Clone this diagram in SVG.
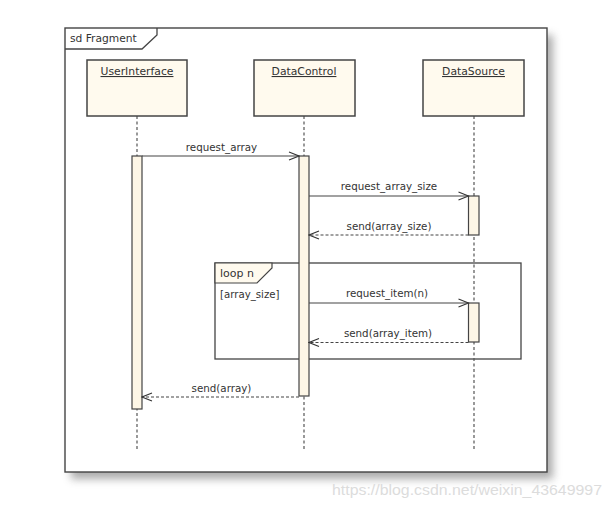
<svg xmlns="http://www.w3.org/2000/svg" width="612" height="509" viewBox="0 0 612 509">
<defs>
<filter id="sh" x="-10%" y="-10%" width="130%" height="130%">
<feGaussianBlur stdDeviation="4"/>
</filter>
<marker id="open" viewBox="0 0 12 10" refX="11" refY="5" markerWidth="12" markerHeight="10" markerUnits="userSpaceOnUse" orient="auto">
<path d="M1,1 L11,5 L1,9" fill="none" stroke="#333" stroke-width="1.1"/>
</marker>
</defs>
<style>
text{font-family:"DejaVu Sans",Verdana,sans-serif;fill:#333;}
.name{font-size:10.8px;text-decoration:underline;text-anchor:middle;}
.msg{font-size:10.3px;text-anchor:middle;}
.box{fill:#fffaee;stroke:#444;stroke-width:1.5;}
.act{fill:#fdf6e6;stroke:#444;stroke-width:1.2;}
.life{stroke:#555;stroke-width:1.2;stroke-dasharray:3,2.5;fill:none;}
.call{stroke:#444;stroke-width:1.1;fill:none;marker-end:url(#open);}
.ret{stroke:#444;stroke-width:1.1;fill:none;stroke-dasharray:3,2;marker-end:url(#open);}
.frame{fill:none;stroke:#444;stroke-width:1.3;}
</style>
<rect x="0" y="0" width="612" height="509" fill="#fff"/>
<!-- outer frame -->
<rect x="71" y="35" width="482" height="444" fill="#888" filter="url(#sh)" opacity="0.7"/>
<rect x="65" y="28" width="482" height="444" fill="#fff" stroke="#444" stroke-width="1.4"/>
<g id="frame-tab">
<path d="M65,49 L142,49 L157,35 L157,28" class="frame"/>
<text x="70" y="42" style="font-size:10.7px">sd Fragment</text>
</g>
<!-- loop fragment -->
<g id="loop">
<rect x="215" y="263" width="306" height="96" class="frame"/>
<path d="M215,283 L257,283 L272,268 L272,263 L215,263 Z" fill="#fffaee" stroke="#444" stroke-width="1.2"/>
<text x="220" y="277" style="font-size:11px">loop n</text>
<text x="220" y="298" style="font-size:10.2px">[array_size]</text>
</g>
<!-- lifelines -->
<g id="UserInterface">
<line x1="137" y1="116" x2="137" y2="450" class="life"/>
<rect x="87" y="60" width="100" height="56" class="box"/>
<text x="137" y="75" class="name">UserInterface</text>
</g>
<g id="DataControl">
<line x1="304" y1="116" x2="304" y2="450" class="life"/>
<rect x="254" y="60" width="101" height="56" class="box"/>
<text x="304" y="75" class="name">DataControl</text>
</g>
<g id="DataSource">
<line x1="474" y1="116" x2="474" y2="450" class="life"/>
<rect x="423" y="60" width="101" height="56" class="box"/>
<text x="473.5" y="75" class="name">DataSource</text>
</g>
<!-- activations -->
<g id="act-ui"><rect x="132" y="156" width="10" height="253" class="act"/></g>
<g id="act-dc"><rect x="299" y="156" width="10" height="240" class="act"/></g>
<g id="act-ds1"><rect x="468.5" y="196" width="10.5" height="39" class="act"/></g>
<g id="act-ds2"><rect x="468.5" y="303" width="10.5" height="39" class="act"/></g>
<!-- connectors -->
<g id="connectors">
<line x1="142" y1="156" x2="299" y2="156" class="call"/>
<text x="221.5" y="151" class="msg">request_array</text>
<line x1="309" y1="196" x2="468.5" y2="196" class="call"/>
<text x="389" y="190" class="msg">request_array_size</text>
<line x1="468.5" y1="235" x2="309" y2="235" class="ret"/>
<text x="389" y="230" class="msg">send(array_size)</text>
<line x1="309" y1="303" x2="468.5" y2="303" class="call"/>
<text x="387" y="297" class="msg">request_item(n)</text>
<line x1="468.5" y1="342.5" x2="309" y2="342.5" class="ret"/>
<text x="388" y="337" class="msg">send(array_item)</text>
<line x1="299" y1="397" x2="142" y2="397" class="ret"/>
<text x="221.5" y="392" class="msg">send(array)</text>
</g>
<text x="332" y="495" textLength="270" lengthAdjust="spacingAndGlyphs" style="font-family:'Liberation Sans',Arial,sans-serif;font-size:14px;fill:#dcdcdc">https://blog.csdn.net/weixin_43649997</text>
</svg>
